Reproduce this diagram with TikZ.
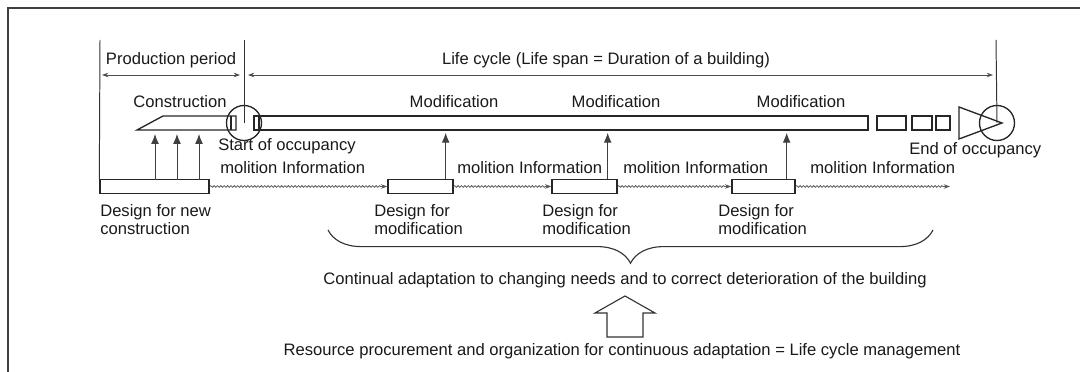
\documentclass[tikz,border=0pt]{standalone}
\usepackage{fontspec}
\setmainfont{Liberation Sans}
\usetikzlibrary{arrows.meta,decorations.pathmorphing,decorations.pathreplacing}

\begin{document}
\begin{tikzpicture}[x=0.025cm, y=-0.025cm,
      lbl/.style={inner sep=0pt, text=black!90, font=\fontsize{11.8}{13.2}\selectfont},
      bar/.style={draw=black!85, line width=0.95pt},
      dbox/.style={draw=black!85, line width=0.95pt, minimum height=0.35cm, inner sep=0pt},
      dim/.style={{Stealth[length=4.5pt,width=3.2pt]}-{Stealth[length=4.5pt,width=3.2pt]}, black!70, line width=0.6pt},
      feed/.style={-{Latex[length=7pt,width=5.5pt]}, black!75, line width=0.6pt},
      info/.style={-{Stealth[length=4.5pt,width=3.2pt]}, black!65, line width=0.55pt, decorate,
                   decoration={snake, amplitude=0.6pt, segment length=2.4pt, post length=4pt}}
    ]
      \useasboundingbox (0,0) rectangle (1080,372);
      % frame
      \draw[black!75, line width=1.3pt] (8,372) -- (8,8) -- (1080,8);

      % time marks and spans
      \coordinate (t0) at (100,40);
      \coordinate (t1) at (244,40);
      \coordinate (t2) at (996,40);
      \draw[dim] (102,75) -- (240,75);
      \draw[dim] (248,75) -- (993,75);
      \node[lbl] (prod) at (171,60) {Production period};
      \node[lbl] (life) at (606,60) {Life cycle (Life span = Duration of a building)};

      % construction and occupancy bars
      \draw[bar] (137,130) -- (163,116) -- (236,116) -- (236,130) -- cycle;
      \draw[bar] (231,116) -- (231,130);
      \draw[bar] (254,116) rectangle (868,130);
      \draw[bar] (259,116) -- (259,130);
      \draw[bar] (877,116) rectangle (906,130);
      \draw[bar] (912,116) rectangle (932,130);
      \draw[bar] (936,116) rectangle (950,130);
      \draw[bar] (959,107) -- (1002,123) -- (959,139) -- cycle;
      \node[draw=black!85, line width=0.95pt, circle, minimum size=0.875cm] (start) at (244,123) {};
      \node[draw=black!85, line width=0.95pt, circle, minimum size=0.875cm] (end) at (997,123) {};
      \draw[black!80, line width=0.7pt] (t1) -- (start.center);
      \draw[black!80, line width=0.7pt] (t2) -- (end.center);

      \node[lbl] (cons) at (180,102) {Construction};
      \node[lbl] (mod1) at (454,102) {Modification};
      \node[lbl] (mod2) at (616,102) {Modification};
      \node[lbl] (mod3) at (801,102) {Modification};
      \node[lbl, anchor=west] (soc) at (218,146) {Start of occupancy};
      \node[lbl, anchor=west] (eoc) at (909,150) {End of occupancy};

      % design boxes
      \node[dbox, minimum width=2.725cm] (d1) at (154.5,186.5) {};
      \node[dbox, minimum width=1.625cm] (d2) at (420.5,186.5) {};
      \node[dbox, minimum width=1.625cm] (d3) at (584.5,186.5) {};
      \node[dbox, minimum width=1.575cm] (d4) at (763.5,186.5) {};
      \coordinate (fin) at (950,186.5);
      \draw[black!80, line width=0.7pt] (t0) -- (d1.north west);

      \node[lbl, anchor=north west, align=left] (n1) at (100,204) {Design for new\\construction};
      \node[lbl, anchor=north west, align=left] (n2) at (374,204) {Design for\\modification};
      \node[lbl, anchor=north west, align=left] (n3) at (542,204) {Design for\\modification};
      \node[lbl, anchor=north west, align=left] (n4) at (718,204) {Design for\\modification};

      % feedback to the bars
      \foreach \x in {155,177,199}
        \draw[feed] (\x,180) -- (\x,134);
      \draw[feed] (d2.north east) ++(-8,0) -- ++(0,-46);
      \draw[feed] (d3.north east) ++(-10,0) -- ++(0,-46);
      \draw[feed] (d4.north east) ++(-9,0) -- ++(0,-46);

      % information flow
      \draw[info] (d1.east) -- (d2.west);
      \draw[info] (d2.east) -- (d3.west);
      \draw[info] (d3.east) -- (d4.west);
      \draw[info] (d4.east) -- (fin);
      \node[lbl, anchor=west] (i1) at (220,168) {molition Information};
      \node[lbl, anchor=west] (i2) at (457,168) {molition Information};
      \node[lbl, anchor=west] (i3) at (623,168) {molition Information};
      \node[lbl, anchor=west] (i4) at (810,168) {molition Information};

      % adaptation
      \draw[black!80, line width=0.8pt, decorate,
            decoration={brace, mirror, amplitude=0.83cm, aspect=0.5}] (328,230) -- (933,230);
      \node[lbl] (adapt) at (625,280) {Continual adaptation to changing needs and to correct deterioration of the building};
      \draw[black!80, line width=0.8pt] (607,337) -- (607,313) -- (595,313) -- (625,296)
            -- (655,313) -- (643,313) -- (643,337) -- cycle;
      \node[lbl] (lcm) at (622,351) {Resource procurement and organization for continuous adaptation = Life cycle management};
    \end{tikzpicture}
\end{document}
